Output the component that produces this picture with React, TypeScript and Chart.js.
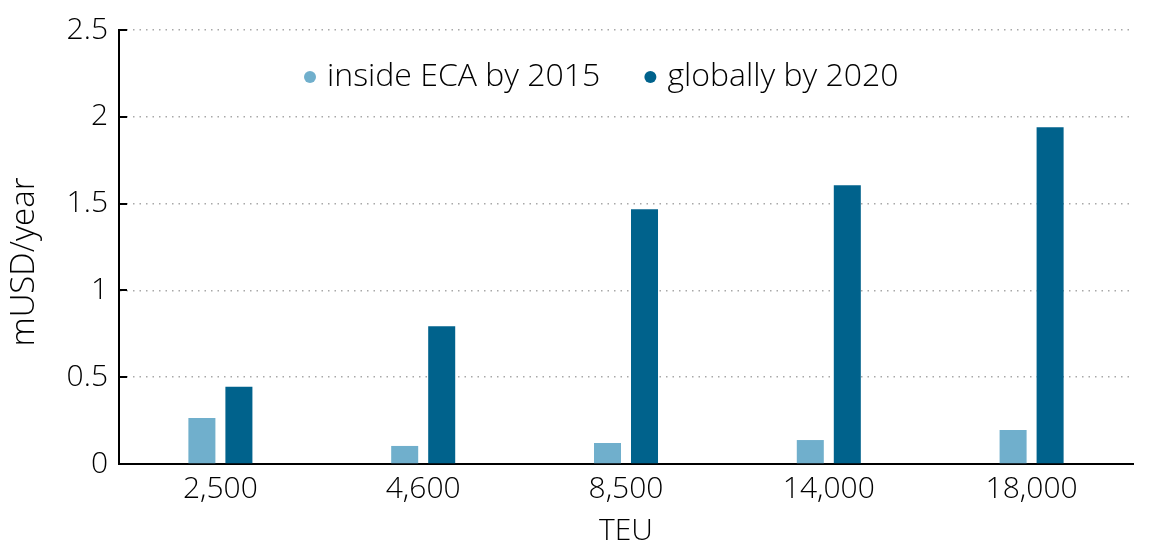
import React, { useEffect, useRef } from "react";
import { Chart, registerables } from "chart.js";

Chart.register(...registerables);

const categories = ["2,500", "4,600", "8,500", "14,000", "18,000"];
const insideECA = [0.265, 0.104, 0.121, 0.138, 0.196];
const globally = [0.445, 0.794, 1.467, 1.605, 1.94];
const seriesLabels = ["inside ECA by 2015", "globally by 2020"];
const yTicks = [0, 0.5, 1, 1.5, 2, 2.5];
const yTitle = "mUSD/year";
const xTitle = "TEU";

const LIGHT = "#70AFCC";
const DARK = "#00628C";
const FONT = "'Open Sans', 'Noto Sans', sans-serif";
const TEXT = "#000000";
const W = "350";

const insideLegend = {
  id: "insideLegend",
  afterDraw(chart: any) {
    const { ctx, chartArea } = chart;
    ctx.save();
    ctx.font = `${W} 32px ${FONT}`;
    ctx.textBaseline = "middle";
    ctx.textAlign = "left";
    let x = chartArea.left + 191;
    const y = chartArea.top + 47;
    chart.data.datasets.forEach((ds: any) => {
      ctx.fillStyle = ds.backgroundColor;
      ctx.beginPath();
      ctx.arc(x, y, 6, 0, Math.PI * 2);
      ctx.fill();
      ctx.fillStyle = TEXT;
      ctx.fillText(ds.label, x + 17, y);
      x += 17 + ctx.measureText(ds.label).width + 50;
    });
    ctx.restore();
  },
};

const yTitlePlugin = {
  id: "yTitlePlugin",
  afterDraw(chart: any) {
    const { ctx, chartArea } = chart;
    ctx.save();
    ctx.font = `${W} 33px ${FONT}`;
    ctx.fillStyle = TEXT;
    ctx.textAlign = "center";
    ctx.textBaseline = "middle";
    ctx.translate(25, (chartArea.top + chartArea.bottom) / 2 + 15);
    ctx.rotate(-Math.PI / 2);
    ctx.fillText(yTitle, 0, 0);
    ctx.restore();
  },
};

const innerTicks = {
  id: "innerTicks",
  afterDraw(chart: any) {
    const { ctx, chartArea } = chart;
    const ys = chart.scales.y;
    ctx.save();
    ctx.strokeStyle = "#000";
    ctx.lineWidth = 2;
    ys.ticks.forEach((t: any) => {
      const py = Math.round(ys.getPixelForValue(t.value));
      ctx.beginPath();
      ctx.moveTo(chartArea.left, py);
      ctx.lineTo(chartArea.left + 8, py);
      ctx.stroke();
    });
    ctx.restore();
  },
};

export default function App() {
  const ref = useRef<HTMLCanvasElement | null>(null);
  useEffect(() => {
    if (!ref.current) return;
    const chart = new Chart(ref.current, {
      type: "bar",
      data: {
        labels: categories,
        datasets: [
          {
            label: seriesLabels[0],
            data: insideECA,
            backgroundColor: LIGHT,
            categoryPercentage: 0.365,
            barPercentage: 0.73,
          },
          {
            label: seriesLabels[1],
            data: globally,
            backgroundColor: DARK,
            categoryPercentage: 0.365,
            barPercentage: 0.73,
          },
        ],
      },
      plugins: [insideLegend, innerTicks, yTitlePlugin],
      options: {
        animation: false,
        responsive: false,
        maintainAspectRatio: false,
        layout: { padding: { left: 0, right: 17, top: 30, bottom: 0 } },
        plugins: {
          legend: { display: false },
          tooltip: { enabled: false },
        },
        scales: {
          x: {
            grid: { display: false, drawTicks: false },
            border: { display: true, color: "#000", width: 2 },
            ticks: {
              color: TEXT,
              font: { family: FONT, size: 30, weight: W },
              padding: 7,
            },
            title: {
              display: true,
              text: xTitle,
              color: TEXT,
              font: { family: FONT, size: 30, weight: W },
              padding: { top: 0, bottom: 4 },
            },
            afterFit: (s: any) => {
              s.height = 89;
            },
          },
          y: {
            min: 0,
            max: 2.5,
            afterBuildTicks: (s: any) => {
              s.ticks = yTicks.map((v) => ({ value: v }));
            },
            grid: {
              color: "#a8a8a8",
              lineWidth: 1.5,
              drawTicks: false,
            },
            border: { display: true, color: "#000", width: 2, dash: [1.5, 5] },
            ticks: {
              color: TEXT,
              font: { family: FONT, size: 30, weight: W },
              padding: 11,
              callback: (v: any) => String(v),
            },
            title: { display: false },
            afterFit: (s: any) => {
              s.width = 119;
            },
          },
        },
      },
    } as any);
    return () => chart.destroy();
  }, []);
  return (
    <div style={{ position: "absolute", left: 0, top: 0, width: 1150, height: 553, background: "#fff" }}>
      <canvas ref={ref} width={1150} height={553} style={{ width: 1150, height: 553 }} />
    </div>
  );
}
